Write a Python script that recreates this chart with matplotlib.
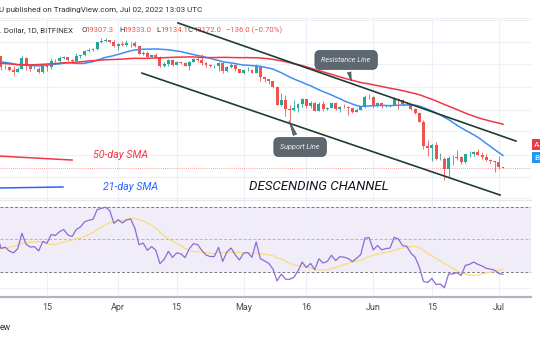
import numpy as np
import pandas as pd
import matplotlib.pyplot as plt

plt.rcParams['font.family'] = ['Roboto', 'DejaVu Sans']

# days counted from 1 Mar 2022 (Mar 3 = 2 ... Jul 2 = 123)
warmup_close = [43925, 42592, 43099, 43177, 43113, 42250, 42375, 41744, 40680, 36445,
                35071, 36244, 36660, 36958, 36810, 37160, 37716, 38166, 37881, 38466,
                38694, 36896, 37311, 41574, 41382, 42380, 43840, 44118, 44338, 43565,
                42407, 42244, 42197, 42586, 44575, 43961, 40538, 40031, 40123, 38431,
                37075, 38287, 37296, 38332, 39214, 39106, 37710, 43194, 44421, 43892]

day = np.arange(2, 124)

open_ = [43892, 42454, 39148, 39397, 38420, 37988, 38730, 41941, 39422, 38730,
         38807, 37777, 39671, 39281, 41114, 40917, 41757, 42201, 41262, 41002,
         42364, 42882, 43991, 44313, 44511, 46827, 47122, 47434, 47062,
         45538, 46281, 45868, 46453, 46622, 45555, 43207, 43445, 42252, 42753,
         42158, 39530, 40074, 41147, 39942, 40551, 40378, 39678, 40801, 41493,
         41358, 40480, 39709, 39441, 39450, 40427, 38112, 39235, 39742, 38596,
         37630, 38468, 38525, 37729, 39690, 36553, 36013, 35472, 34039, 30074,
         31017, 29104, 29030, 29287, 30101, 31306, 29862, 30425, 28716, 30296,
         29198, 29432, 30323, 29098, 29655, 29562, 29267, 28628, 29031, 29468, 31734,
         31801, 29805, 30452, 29700, 29865, 29920, 31373, 31125, 30204, 30109,
         29091, 28424, 26574, 22487, 22136, 22583, 20401, 20468, 18970, 20574,
         20573, 20723, 19987, 21110, 21237, 21491, 21038, 20742, 20281, 20123,
         19942, 19307.3]
high = [44100, 42527, 39695, 39640, 39430, 39362, 42595, 42039, 40236, 39486,
        39310, 39947, 39887, 41718, 41478, 42325, 42400, 42296, 41544, 43361,
        42893, 44220, 45094, 44792, 46999, 48190, 48097, 47700, 47600,
        46720, 47213, 47444, 46890, 47200, 45555, 43900, 43970, 42800, 43410,
        42414, 40699, 41561, 41500, 40870, 40709, 40595, 41116, 41760, 42199,
        42976, 40795, 39980, 39940, 40616, 40797, 39474, 40372, 39925, 38795,
        38675, 39167, 38651, 39980, 39845, 36650, 36146, 35514, 34243, 32659,
        32162, 30032, 31083, 30343, 31460, 31306, 30788, 30662, 30545, 30777,
        29618, 30426, 30680, 29840, 30223, 29858, 29388, 29250, 29579, 32222, 32399,
        31982, 30690, 30675, 29950, 30173, 31765, 31560, 31328, 30700, 30382,
        29440, 28544, 26895, 23362, 22800, 22980, 21365, 20792, 20815, 21090,
        21723, 20873, 21233, 21558, 21614, 21868, 21540, 21200, 20432, 20179,
        20918, 19333.0]
low = [41832, 38550, 38783, 38088, 37155, 37867, 38656, 38539, 38223, 38660,
       37578, 37555, 38098, 38828, 40500, 40135, 41499, 40911, 40467, 40875,
       41751, 42560, 43579, 44071, 44421, 46664, 46950, 46445, 45200,
       44255, 45620, 45530, 45118, 45353, 43121, 42727, 42107, 42125, 41868,
       39200, 39254, 39588, 39551, 39766, 39992, 39546, 38536, 40571, 40820,
       39751, 39177, 39285, 38929, 38200, 37702, 37881, 38881, 38175, 37578,
       37386, 38052, 37517, 37671, 35571, 35258, 34785, 33713, 30033, 29730,
       27785, 26700, 28751, 28630, 29480, 29251, 29422, 28654, 28691, 28730,
       28947, 29256, 28894, 28627, 29295, 28019, 28282, 28498, 28856, 29300, 31201,
       29350, 29588, 29250, 29490, 29516, 29890, 29218, 29844, 29944, 28850,
       28100, 26560, 21925, 20846, 20111, 20232, 20246, 17622, 17960, 19637,
       20348, 19770, 19890, 20740, 20906, 20970, 20500, 20192, 19848, 18626,
       19000, 19134.1]
close = [42454, 39148, 39397, 38420, 37988, 38730, 41941, 39422, 38730, 38807,
         37777, 39671, 39281, 41114, 40917, 41757, 42201, 41262, 41002, 42364,
         42882, 43991, 44313, 44511, 46827, 47122, 47434, 47062, 45538,
         46281, 45868, 46453, 46622, 45555, 43207, 43445, 42252, 42753, 42158,
         39530, 40074, 41147, 39942, 40551, 40378, 39678, 40801, 41493, 41358,
         40480, 39709, 39441, 39450, 40427, 38112, 39235, 39742, 38596, 37630,
         38468, 38525, 37729, 39690, 36553, 36013, 35472, 34039, 30074, 31017,
         29104, 29030, 29287, 30101, 31306, 29862, 30425, 28716, 30296, 29198,
         29432, 30323, 29098, 29655, 29562, 29267, 28628, 29031, 29468, 31734, 31801,
         29805, 30452, 29700, 29865, 29920, 31373, 31125, 30204, 30109, 29091,
         28424, 26574, 22487, 22136, 22583, 20401, 20468, 18970, 20574, 20573,
         20723, 19987, 21110, 21237, 21491, 21038, 20742, 20281, 20123, 19942,
         19307.3, 19172.0]

tick_days = [14, 31, 45, 61, 76, 92, 106, 122]
tick_labels = ['15', 'Apr', '15', 'May', '16', 'Jun', '15', 'Jul']
price_grid = [15500, 18000, 21000, 25000, 29000, 34000, 40000, 47000, 55000]

# drawn trend lines (day, price)
resist_days, resist_price = [45.3, 126.1], [53700, 23210]
support_days, support_price = [36.7, 122.3], [37600, 15820]
sma50_key_days, sma50_key_price = [2.7, 20.0], [20860, 20280]
sma21_key_days, sma21_key_price = [2.7, 17.8], [16630, 16750]

GREEN, RED = '#26a69a', '#ef5350'

# indicators
all_close = pd.Series(warmup_close + close, dtype=float)
n = len(close)
sma21 = all_close.rolling(21).mean().values[-n:]
sma50 = all_close.rolling(50).mean().values[-n:]
delta = all_close.diff()
gain = delta.clip(lower=0).ewm(alpha=1/14, adjust=False).mean()
loss = (-delta.clip(upper=0)).ewm(alpha=1/14, adjust=False).mean()
rsi = 100 - 100 / (1 + gain / loss)
rsi_ma = rsi.rolling(14).mean()
rsi, rsi_ma = rsi.values[-n:], rsi_ma.values[-n:]

W, H = 540, 340
fig = plt.figure(figsize=(W / 100, H / 100), dpi=100)

def box(x0, y0, x1, y1):
    return [x0 / W, 1 - y1 / H, (x1 - x0) / W, (y1 - y0) / H]

xlim = (2.76, 129.7)
ax = fig.add_axes(box(0, 18, 531, 200))
ax2 = fig.add_axes(box(0, 200, 531, 297))

# ---- price pane
ax.set_yscale('log')
ax.set_xlim(xlim)
ax.set_ylim(15270, 55620)
o, h, l, c = map(np.array, (open_, high, low, close))
cols = np.where(c >= o, GREEN, RED)
ax.vlines(day, l, h, colors=cols, lw=0.6, zorder=3)
ax.bar(day, np.maximum(np.abs(c - o), 60), bottom=np.minimum(o, c), width=0.7,
       color=cols, lw=0, zorder=3)
ax.plot(day, sma21, color='#3d8ef5', lw=1.1, zorder=4)
ax.plot(day, sma50, color='#f23645', lw=1.1, zorder=4)
ax.axhline(c[-1], color=RED, ls=(0, (1, 1.5)), lw=0.6, alpha=0.7, zorder=2)

ax.plot(resist_days, resist_price, color='#1f3d30', lw=1.2, zorder=6)
ax.plot(support_days, support_price, color='#1f3d30', lw=1.2, zorder=6)
ax.plot(sma50_key_days, sma50_key_price, color='#f23645', lw=1.1, zorder=5)
ax.plot(sma21_key_days, sma21_key_price, color='#2962ff', lw=1.1, zorder=5)
ax.text(25.0, 21010, '50-day SMA', color='#f23645', style='italic', fontsize=7.7,
        va='center', zorder=5)
ax.text(27.4, 16750, '21-day SMA', color='#2962ff', style='italic', fontsize=7.7,
        va='center', zorder=5)
ax.text(62.3, 16860, 'DESCENDING CHANNEL', color='#131722', style='italic',
        fontsize=9.5, va='center', zorder=5)

bubble = dict(boxstyle='round,pad=0.9,rounding_size=0.7', fc='#5d6770', ec='#46505a', lw=0.5)
arrow = dict(arrowstyle='wedge,tail_width=0.5,shrink_factor=0.5', fc='#5d6770', ec='#46505a', lw=0.5)
ax.annotate('Resistance Line', xy=(86.9, 34900), xytext=(85.5, 41300), ha='center',
            va='center', fontsize=5.2, style='italic', color='#eeeeee',
            bbox=bubble, arrowprops=arrow, zorder=7)
ax.annotate('Support Line', xy=(71.6, 27330), xytext=(74.5, 22240), ha='center',
            va='center', fontsize=5.2, style='italic', color='#eeeeee',
            bbox=bubble, arrowprops=arrow, zorder=7)

ax.set_xticks(tick_days)
ax.set_yticks(price_grid)
ax.yaxis.set_minor_locator(plt.NullLocator())
ax.grid(True, color='#edf1f7', lw=0.8, zorder=0)
ax.tick_params(left=False, bottom=False, labelleft=False, labelbottom=False)
for s in ax.spines.values():
    s.set_visible(False)
ax.spines['top'].set_visible(True)
ax.spines['top'].set_color('#eef0f3')

# legend line, drawn under the trend line
t = fig.transFigure
y_leg = 1 - 30 / H
ax.text(0 / W, y_leg, '. Dollar, 1D, BITFINEX', transform=t, fontsize=5.6,
        color='#333333', va='center', zorder=1)
for xp, s, col in [(81, 'O', '#333333'), (85, '19307.3', RED), (119, 'H', '#333333'),
                   (123, '19333.0', RED), (156, 'L', '#333333'), (160, '19134.1', RED),
                   (188, 'C', '#333333'), (193, '19172.0', RED), (226, '\u2212136.0 (\u22120.70%)', RED)]:
    ax.text(xp / W, y_leg, s, transform=t, fontsize=5.6, color=col, va='center', zorder=1)

# ---- RSI pane
ax2.set_xlim(xlim)
ax2.set_ylim(14.6, 74.3)
ax2.axhspan(30, 70, color='#7e57c2', alpha=0.1, lw=0)
for lvl, a in [(70, 1), (50, 0.5), (30, 1)]:
    ax2.axhline(lvl, color='#787b86', ls=(0, (3, 2)), lw=0.7, alpha=a)
ax2.plot(day, rsi, color='#8c6bd6', lw=0.9, zorder=4)
ax2.plot(day, rsi_ma, color='#f7dc80', lw=0.9, zorder=3)
ax2.set_xticks(tick_days)
ax2.set_xticklabels(tick_labels)
ax2.set_yticks([20, 40, 60])
ax2.grid(True, color='#edf1f7', lw=0.8, zorder=0)
ax2.tick_params(left=False, labelleft=False, length=0, pad=4, labelsize=6.5,
                labelcolor='#4a4a4a')
for s in ax2.spines.values():
    s.set_visible(False)
ax2.spines['top'].set_visible(True)
ax2.spines['top'].set_color('#e6e8ec')
ax2.spines['bottom'].set_visible(True)
ax2.spines['bottom'].set_color('#b2b5be')
ax2.spines['bottom'].set_linewidth(1.6)

# ---- header / footer / scale labels
fig.text(-1 / W, 1 - 10 / H, 'U published on TradingView.com, Jul 02, 2022 13:03 UTC',
         fontsize=5.8, color='#333333', va='center')
fig.text(0, 1 - 328 / H, 'ew', fontsize=6.2, color='#333333', va='center')
for y0, col, s in [(139, '#f23645', 'A'), (152, '#2196f3', 'B')]:
    fig.patches.append(plt.Rectangle((532 / W, 1 - (y0 + 11) / H), 14 / W, 11 / H,
                                     transform=t, color=col, lw=0))
    fig.text(534 / W, 1 - (y0 + 5.5) / H, s, fontsize=6, color='white', va='center')

fig.savefig('out.png', dpi=100)
